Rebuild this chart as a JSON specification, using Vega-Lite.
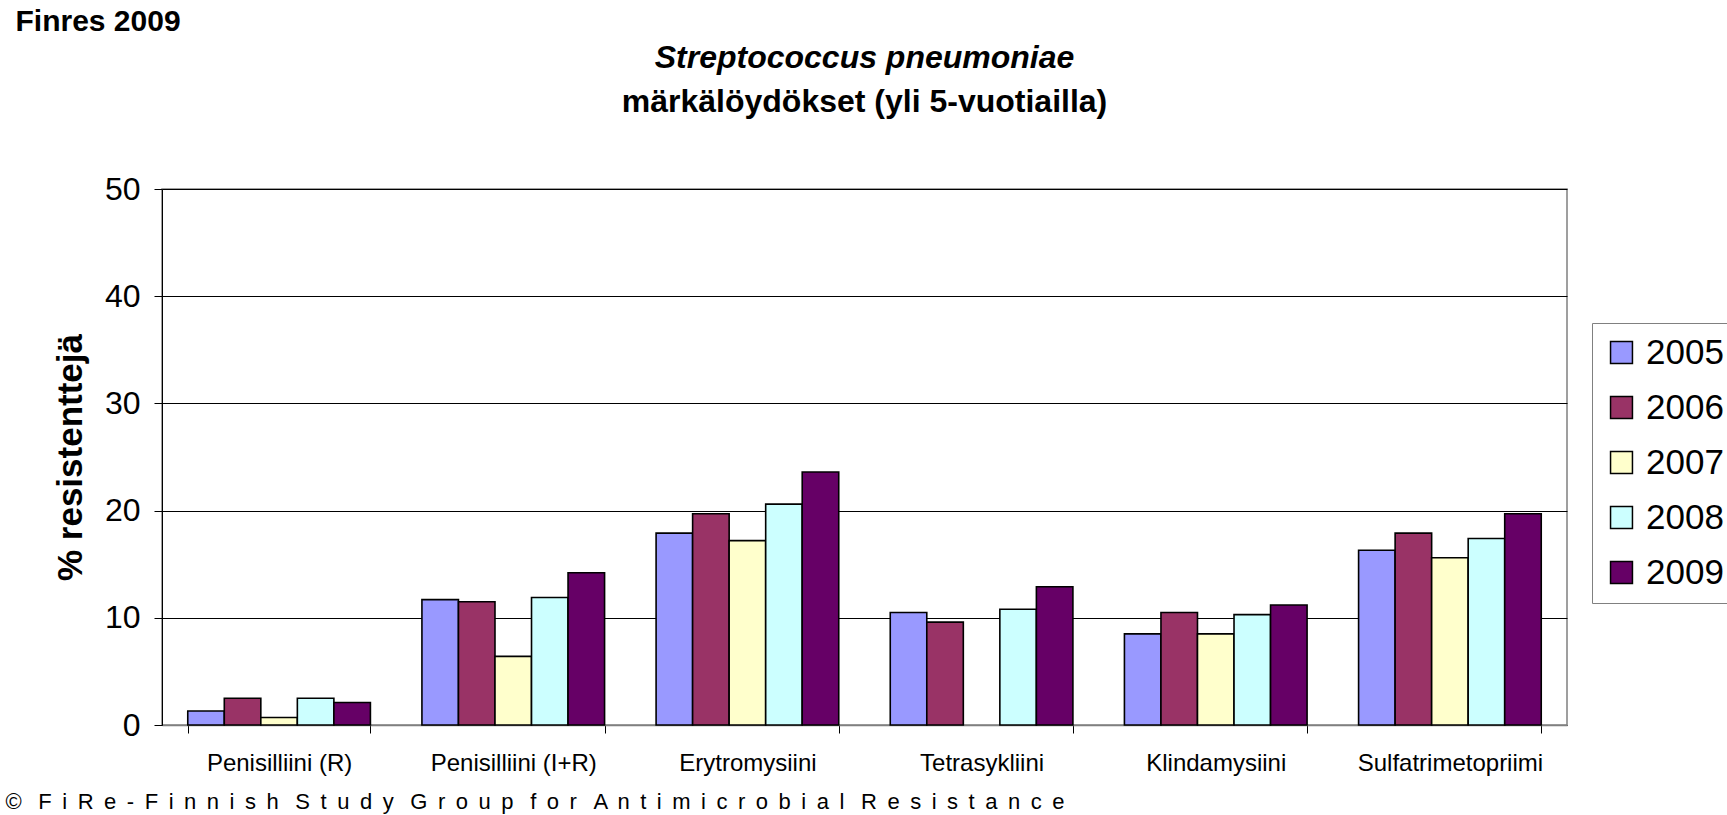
{
  "$schema": "https://vega.github.io/schema/vega-lite/v6.json",
  "autosize": "none",
  "width": 1405,
  "height": 536,
  "padding": {"left": 162, "top": 189, "right": 160, "bottom": 90},
  "background": "white",
  "title": {
    "text": "Streptococcus pneumoniae",
    "subtitle": "märkälöydökset (yli 5-vuotiailla)",
    "anchor": "middle",
    "frame": "group",
    "font": "Liberation Sans",
    "fontSize": 32,
    "fontWeight": "bold",
    "fontStyle": "italic",
    "color": "black",
    "subtitleFont": "Liberation Sans",
    "subtitleFontSize": 32,
    "subtitleFontWeight": "bold",
    "subtitleColor": "black",
    "subtitlePadding": 12,
    "offset": -113
  },
  "data": {
    "values": [
      {"drug": "Penisilliini (R)", "year": "2005", "pct": 1.3},
      {"drug": "Penisilliini (R)", "year": "2006", "pct": 2.5},
      {"drug": "Penisilliini (R)", "year": "2007", "pct": 0.7},
      {"drug": "Penisilliini (R)", "year": "2008", "pct": 2.5},
      {"drug": "Penisilliini (R)", "year": "2009", "pct": 2.1},
      {"drug": "Penisilliini (I+R)", "year": "2005", "pct": 11.7},
      {"drug": "Penisilliini (I+R)", "year": "2006", "pct": 11.5},
      {"drug": "Penisilliini (I+R)", "year": "2007", "pct": 6.4},
      {"drug": "Penisilliini (I+R)", "year": "2008", "pct": 11.9},
      {"drug": "Penisilliini (I+R)", "year": "2009", "pct": 14.2},
      {"drug": "Erytromysiini", "year": "2005", "pct": 17.9},
      {"drug": "Erytromysiini", "year": "2006", "pct": 19.7},
      {"drug": "Erytromysiini", "year": "2007", "pct": 17.2},
      {"drug": "Erytromysiini", "year": "2008", "pct": 20.6},
      {"drug": "Erytromysiini", "year": "2009", "pct": 23.6},
      {"drug": "Tetrasykliini", "year": "2005", "pct": 10.5},
      {"drug": "Tetrasykliini", "year": "2006", "pct": 9.6},
      {"drug": "Tetrasykliini", "year": "2008", "pct": 10.8},
      {"drug": "Tetrasykliini", "year": "2009", "pct": 12.9},
      {"drug": "Klindamysiini", "year": "2005", "pct": 8.5},
      {"drug": "Klindamysiini", "year": "2006", "pct": 10.5},
      {"drug": "Klindamysiini", "year": "2007", "pct": 8.5},
      {"drug": "Klindamysiini", "year": "2008", "pct": 10.3},
      {"drug": "Klindamysiini", "year": "2009", "pct": 11.2},
      {"drug": "Sulfatrimetopriimi", "year": "2005", "pct": 16.3},
      {"drug": "Sulfatrimetopriimi", "year": "2006", "pct": 17.9},
      {"drug": "Sulfatrimetopriimi", "year": "2007", "pct": 15.6},
      {"drug": "Sulfatrimetopriimi", "year": "2008", "pct": 17.4},
      {"drug": "Sulfatrimetopriimi", "year": "2009", "pct": 19.7}
    ]
  },
  "layer": [
    {
      "mark": {"type": "bar", "stroke": "black", "strokeWidth": 1.6},
      "encoding": {
        "x": {
          "field": "drug",
          "type": "nominal",
          "sort": ["Penisilliini (R)", "Penisilliini (I+R)", "Erytromysiini", "Tetrasykliini", "Klindamysiini", "Sulfatrimetopriimi"],
          "scale": {"paddingInner": 0.22, "paddingOuter": 0.11},
          "axis": {
            "orient": "bottom",
            "labelAngle": 0,
            "labelFont": "Liberation Sans",
            "labelFontSize": 24,
            "labelColor": "black",
            "labelPadding": 18,
            "labelLimit": 400,
            "tickBand": "extent",
            "tickSize": 8,
            "tickColor": "black",
            "domainColor": "#808080",
            "domainWidth": 1.5,
            "title": "© \u00a0\u2009F \u2009i \u2009R \u2009e \u2009- \u2009F \u2009i \u2009n \u2009n \u2009i \u2009s \u2009h \u00a0\u2009S \u2009t \u2009u \u2009d \u2009y \u00a0\u2009G \u2009r \u2009o \u2009u \u2009p \u00a0\u2009f \u2009o \u2009r \u00a0\u2009A \u2009n \u2009t \u2009i \u2009m \u2009i \u2009c \u2009r \u2009o \u2009b \u2009i \u2009a \u2009l \u00a0\u2009R \u2009e \u2009s \u2009i \u2009s \u2009t \u2009a \u2009n \u2009c \u2009e",
            "titleFont": "Liberation Sans",
            "titleFontSize": 22,
            "titleFontWeight": "normal",
            "titleColor": "black",
            "titleAlign": "left",
            "titleBaseline": "alphabetic",
            "titleX": -157,
            "titleY": 83
          }
        },
        "xOffset": {"field": "year", "type": "nominal", "scale": {"paddingInner": 0, "paddingOuter": 0}},
        "y": {
          "field": "pct",
          "type": "quantitative",
          "scale": {"domain": [0, 50]},
          "axis": {
            "values": [0, 10, 20, 30, 40, 50],
            "title": "% resistenttejä",
            "titleFont": "Liberation Sans",
            "titleFontSize": 35,
            "titleFontWeight": "bold",
            "titleColor": "black",
            "titlePadding": 16,
            "labelFont": "Liberation Sans",
            "labelFontSize": 32,
            "labelColor": "black",
            "labelPadding": 14,
            "tickSize": 8,
            "tickColor": "black",
            "domainColor": "black",
            "domainWidth": 1,
            "grid": true,
            "gridColor": "black",
            "gridWidth": 1
          }
        },
        "color": {
          "field": "year",
          "type": "nominal",
          "scale": {
            "domain": ["2005", "2006", "2007", "2008", "2009"],
            "range": ["#9999FF", "#993366", "#FFFFCC", "#CCFFFF", "#660066"]
          },
          "legend": {
            "title": null,
            "orient": "none",
            "legendX": 1430,
            "legendY": 134,
            "symbolType": "square",
            "symbolSize": 480,
            "symbolStrokeColor": "black",
            "symbolStrokeWidth": 1.5,
            "symbolOpacity": 1,
            "labelFont": "Liberation Sans",
            "labelFontSize": 35,
            "labelColor": "black",
            "labelOffset": 7,
            "rowPadding": 19,
            "padding": 12,
            "strokeColor": "#808080",
            "fillColor": "white"
          }
        }
      }
    },
    {
      "mark": {"type": "point", "opacity": 0},
      "encoding": {
        "y": {
          "field": "pct",
          "type": "quantitative",
          "axis": {
            "orient": "right",
            "labels": false,
            "ticks": false,
            "domain": false,
            "grid": false,
            "title": "Finres 2009",
            "titleAngle": 0,
            "titleFont": "Liberation Sans",
            "titleFontSize": 30,
            "titleFontWeight": "bold",
            "titleColor": "black",
            "titleAlign": "left",
            "titleBaseline": "alphabetic",
            "titleX": -1552,
            "titleY": -159
          }
        }
      }
    }
  ],
  "resolve": {"axis": {"y": "independent"}},
  "config": {
    "view": {"stroke": "#808080", "strokeWidth": 1.5},
    "axis": {"gridOpacity": 1}
  }
}
